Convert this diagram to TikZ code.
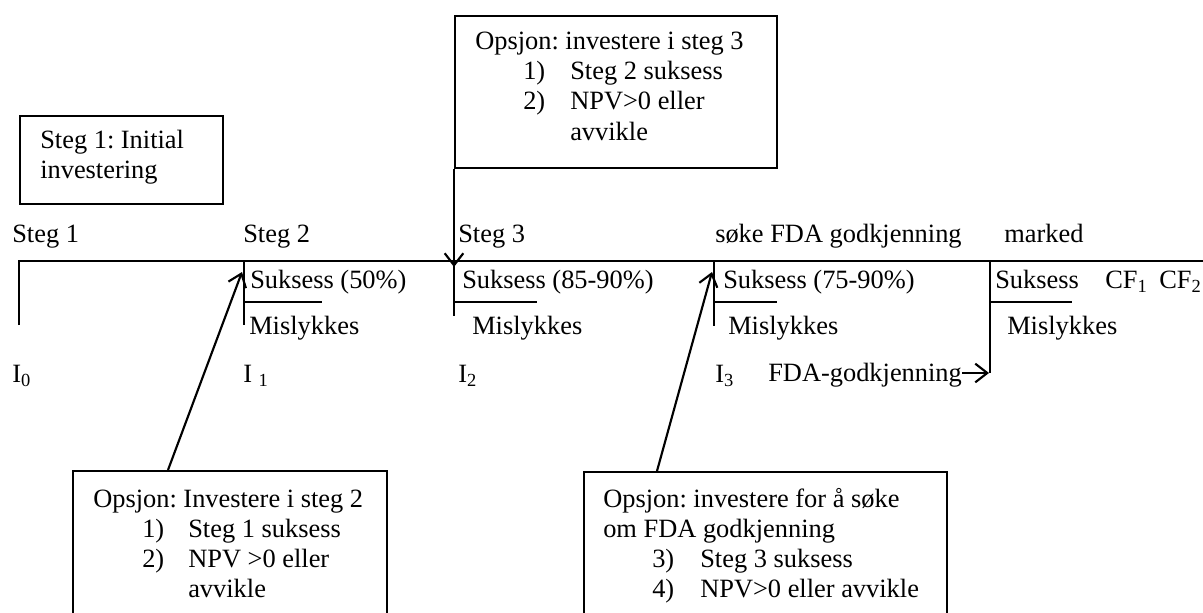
\documentclass[tikz,border=0pt]{standalone}
\usepackage{fontspec}
\setmainfont{Liberation Serif}
\usetikzlibrary{arrows.meta}
\begin{document}
\frenchspacing
\begin{tikzpicture}[x=0.75pt,y=-0.75pt,
  txt/.style={anchor=base west, inner sep=0pt, font=\fontsize{19.8}{22.5}\selectfont},
  boxst/.style={draw, line width=1.5pt, anchor=north west, inner sep=0pt},
  ln/.style={line width=1.6pt},
  arr/.style={line width=1.6pt, -{Straight Barb[length=9pt,width=14pt]}}]
\clip (0,0) rectangle (1203,613);
% boxes
\node[boxst, minimum width=152.25pt, minimum height=66pt] (b1) at (19,115) {};
\node[boxst, minimum width=241.5pt, minimum height=114pt] (btop) at (454,15) {};
\node[boxst, minimum width=235.5pt, minimum height=142.5pt] (bl) at (72,470) {};
\node[boxst, minimum width=272.25pt, minimum height=142.5pt] (br) at (583,471) {};
% box texts
\node[txt] (b1a) at (40,149) {Steg 1: Initial};
\node[txt] (b1b) at (40,179) {investering};
\node[txt] (bt0) at (475,50) {Opsjon: investere i steg 3};
\node[txt] (bt1n) at (523,80) {1)};
\node[txt] (bt1) at (570,80) {Steg 2 suksess};
\node[txt] (bt2n) at (523,110) {2)};
\node[txt] (bt2) at (570,110) {NPV>0 eller};
\node[txt] (bt3) at (570,141) {avvikle};
\node[txt] (bl0) at (93,507) {Opsjon: Investere i steg 2};
\node[txt] (bl1n) at (142,537) {1)};
\node[txt] (bl1) at (188,537) {Steg 1 suksess};
\node[txt] (bl2n) at (142,567) {2)};
\node[txt] (bl2) at (188,567) {NPV >0 eller};
\node[txt] (bl3) at (188,597) {avvikle};
\node[txt] (br0) at (603,507) {Opsjon: investere for å søke};
\node[txt] (br1) at (603,537) {om FDA godkjenning};
\node[txt] (br2n) at (652,567) {3)};
\node[txt] (br2) at (700,567) {Steg 3 suksess};
\node[txt] (br3n) at (652,597) {4)};
\node[txt] (br3) at (700,597) {NPV>0 eller avvikle};
% timeline labels
\node[txt] (s1) at (12,243) {Steg 1};
\node[txt] (s2) at (243,243) {Steg 2};
\node[txt] (s3) at (458,243) {Steg 3};
\node[txt] (s4) at (715,243) {søke FDA godkjenning};
\node[txt] (s5) at (1004,243) {marked};
\node[txt] (k1) at (250,288) {Suksess (50\%)};
\node[txt] (k2) at (462,288) {Suksess (85-90\%)};
\node[txt] (k3) at (723,288) {Suksess (75-90\%)};
\node[txt] (k4) at (995,288) {Suksess};
\node[txt] (cf1) at (1105,288) {CF\textsubscript{1}};
\node[txt] (cf2) at (1159,288) {CF\textsubscript{2}};
\node[txt] (m1) at (249,334) {Mislykkes};
\node[txt] (m2) at (472,334) {Mislykkes};
\node[txt] (m3) at (728,334) {Mislykkes};
\node[txt] (m4) at (1007,334) {Mislykkes};
\node[txt] (i0) at (12,382) {I\textsubscript{0}};
\node[txt] (i1) at (243,382) {I \textsubscript{1}};
\node[txt] (i2) at (458,382) {I\textsubscript{2}};
\node[txt] (i3) at (715,382) {I\textsubscript{3}};
\node[txt] (fda) at (768,381) {FDA-godkjenning};
% timeline coordinates
\coordinate (p0) at (19,261);
\coordinate (pend) at (1203,261);
\coordinate (q0) at (19,325);
\coordinate (p1) at (244,261); \coordinate (q1) at (244,325);
\coordinate (r1) at (244,302); \coordinate (e1) at (322,302);
\coordinate (p2) at (454,261); \coordinate (q2) at (454,316);
\coordinate (r2) at (454,302); \coordinate (e2) at (537,302);
\coordinate (p3) at (714,261); \coordinate (q3) at (714,326);
\coordinate (r3) at (714,302); \coordinate (e3) at (777,302);
\coordinate (p4) at (990,261); \coordinate (q4) at (990,373);
\coordinate (r4) at (990,302); \coordinate (e4) at (1072,302);
% lines
\draw[ln] (q0) -- (p0) -- (pend);
\draw[ln] (p1) -- (q1); \draw[ln] (r1) -- (e1);
\draw[ln] (p2) -- (q2); \draw[ln] (r2) -- (e2);
\draw[ln] (p3) -- (q3); \draw[ln] (r3) -- (e3);
\draw[ln] (p4) -- (q4); \draw[ln] (r4) -- (e4);
% arrows
\coordinate (a1s) at (168,470); \coordinate (a1e) at (242,272);
\draw[arr] (a1s) -- (a1e);
\coordinate (a2e) at (454,267);
\draw[arr] (btop.south west) -- (a2e);
\coordinate (a3s) at (657,471); \coordinate (a3e) at (712,272);
\draw[arr] (a3s) -- (a3e);
\coordinate (a4s) at (962,373); \coordinate (a4e) at (989,373);
\draw[arr] (a4s) -- (a4e);
\end{tikzpicture}
\end{document}
